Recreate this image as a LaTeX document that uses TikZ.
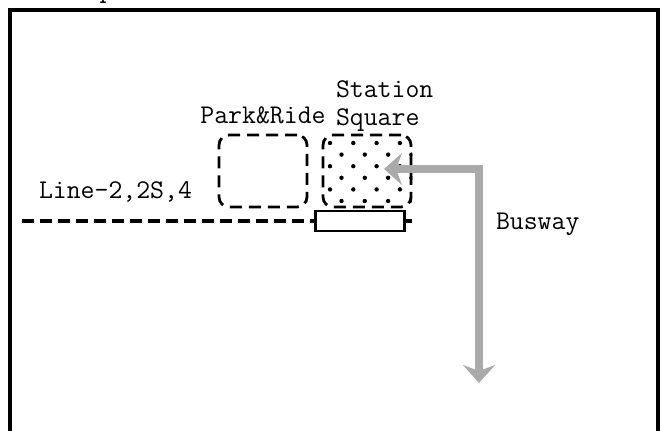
\documentclass[tikz,border=0pt]{standalone}
\usepackage{fontspec}
\usetikzlibrary{arrows.meta, positioning}
\definecolor{busgray}{HTML}{AAAAAA}

\begin{document}
\begin{tikzpicture}[
        x=0.5pt, y=-0.5pt,
        font=\ttfamily\fontsize{13.5}{16}\selectfont,
        txt/.style={inner sep=0pt, outer sep=0pt},
        frame/.style={line width=2pt, line join=miter},
        area/.style={draw, line width=1.4pt, rounded corners=5pt, dash pattern=on 6pt off 3.5pt, minimum width=44pt, minimum height=36pt, inner sep=0pt},
        railline/.style={line width=2.4pt, dash pattern=on 6pt off 3pt},
        stationbox/.style={draw, line width=1.1pt, fill=white, minimum width=44.5pt, minimum height=10pt, inner sep=0pt},
        busarrow/.style={busgray, line width=3.8pt, line join=miter, {Stealth[length=9pt, width=16pt, inset=3pt]}-{Stealth[length=9pt, width=16pt, inset=3pt]}}
    ]
        \useasboundingbox (0,0) rectangle (662,430);
        \draw[frame] (10,445) |- (658,10) -- (658,445);
        \node[txt, anchor=base west] (title) at (30,-3) {Conceptual Plan};

        % rail line and station
        \coordinate (linewest) at (22,221);
        \coordinate (lineeast) at (414,221);
        \draw[railline] (linewest) -- (lineeast);
        \node[stationbox] (station) at (360,221) {};
        \node[txt, anchor=base west] (linelabel) at (39,198) {Line-2,2S,4};

        % areas next to the station
        \node[area] (parkride) at (263,171) {};
        \node[area] (square) at (367,171) {};
        \begin{scope}
            \clip[rounded corners=5pt] (square.south west) rectangle (square.north east);
            \foreach \row in {0,...,5} {
                \pgfmathsetmacro{\dx}{mod(\row,2)*11.5}
                \foreach \col in {0,...,3}
                    \fill ({330+\dx+\col*23.3},{143+\row*11.6}) circle (1.1pt);
            }
        \end{scope}
        \node[txt, anchor=base, above=5pt of parkride.north] (prlabel) {Park\&Ride};
        \node[txt, anchor=base west] (stationlabel) at (336,97) {Station};
        \node[txt, anchor=base west] (squarelabel) at (336,125) {Square};

        % busway
        \coordinate (busend) at (479,383);
        \coordinate (bustip) at (384,169);
        \draw[busarrow] (busend) |- (bustip);
        \node[txt, anchor=base west] (buslabel) at (496,229) {Busway};
    \end{tikzpicture}
\end{document}
